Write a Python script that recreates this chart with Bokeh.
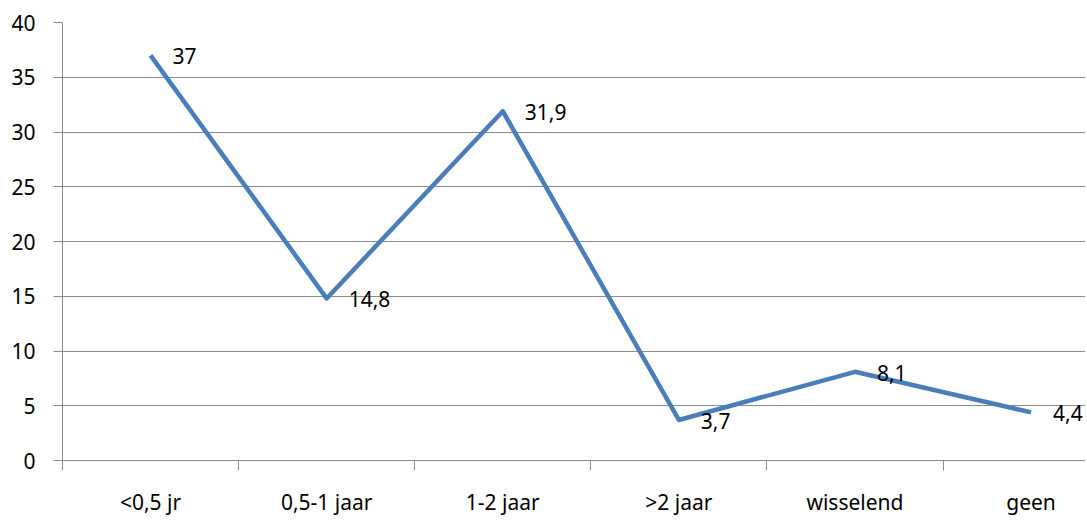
from bokeh.plotting import figure
from bokeh.models import ColumnDataSource, FixedTicker, Range1d
from bokeh.core.properties import value
from bokeh.embed import file_html
from bokeh.resources import INLINE

categories = ["<0,5 jr", "0,5-1 jaar", "1-2 jaar", ">2 jaar", "wisselend", "geen"]
values = [37, 14.8, 31.9, 3.7, 8.1, 4.4]
label_texts = ["37", "14,8", "31,9", "3,7", "8,1", "4,4"]
y_ticks = [0, 5, 10, 15, 20, 25, 30, 35, 40]

xs = [i + 0.5 for i in range(len(categories))]
src = ColumnDataSource(dict(x=xs, y=values, t=label_texts))

FONT = "Noto Sans"
FS = "21px"
GRID = "#8c8c8c"

p = figure(width=1085, height=518, output_backend="svg", toolbar_location=None,
           x_range=Range1d(0, (1085 - 62) / 176.1), y_range=Range1d(0, 40),
           min_border_left=62, min_border_right=0, min_border_top=22, min_border_bottom=56)
p.outline_line_color = None
p.background_fill_color = "white"

p.line("x", "y", source=src, line_color="#4a7ebb", line_width=4.5, line_join="round")
p.text("x", "y", text="t", source=src, x_offset=22, y_offset=1,
       text_baseline="middle", text_align="left",
       text_font=value(FONT), text_font_size=FS, text_color="#000000")

# x axis
p.xaxis.ticker = FixedTicker(ticks=xs, minor_ticks=list(range(len(categories) + 1)))
p.xaxis.major_label_overrides = {x: c for x, c in zip(xs, categories)}
p.xaxis.major_tick_line_color = None
p.xaxis.major_tick_out = 0
p.xaxis.major_tick_in = 0
p.xaxis.minor_tick_out = 10
p.xaxis.minor_tick_in = 0
p.xaxis.minor_tick_line_color = GRID
p.xaxis.axis_line_color = GRID
p.xaxis.major_label_standoff = 17
p.xaxis.major_label_text_font = FONT
p.xaxis.major_label_text_font_size = FS
p.xaxis.major_label_text_color = "#000000"

# y axis
p.yaxis.ticker = FixedTicker(ticks=y_ticks)
p.yaxis.major_tick_out = 9
p.yaxis.major_tick_in = 0
p.yaxis.minor_tick_line_color = None
p.yaxis.major_tick_line_color = GRID
p.yaxis.axis_line_color = GRID
p.yaxis.major_label_standoff = 18
p.yaxis.major_label_text_font = FONT
p.yaxis.major_label_text_font_size = FS
p.yaxis.major_label_text_color = "#000000"

p.xgrid.grid_line_color = None
p.ygrid.ticker = FixedTicker(ticks=y_ticks)
p.ygrid.grid_line_color = GRID
p.ygrid.grid_line_width = 1

open("out.html", "w").write(file_html(p, INLINE))
